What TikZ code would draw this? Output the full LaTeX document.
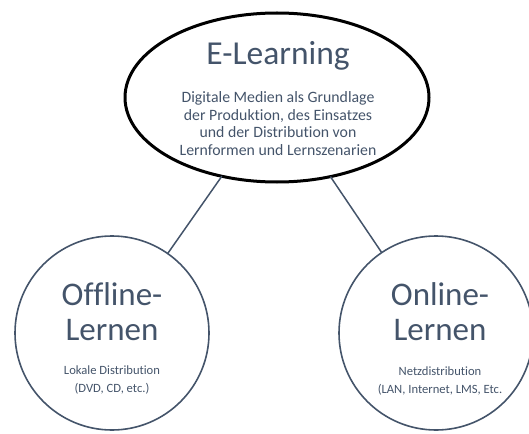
\documentclass[tikz,border=0pt]{standalone}
\usepackage{fontspec}
\setmainfont{Carlito}[Ligatures=NoCommon]
\usetikzlibrary{shapes.geometric}
\definecolor{slate}{RGB}{68,84,106}
\tikzset{
    topic/.style={draw=black, line width=3pt, ellipse, inner sep=0pt, outer sep=0pt},
    branch/.style={draw=slate, line width=1.6pt, circle, inner sep=0pt, outer sep=0pt},
    link/.style={draw=slate, line width=1.5pt},
    bigtext/.style={text=slate, align=center, anchor=base, font=\fontsize{33}{35}\selectfont},
    smalltext/.style={text=slate, align=center, anchor=base, font=\fontsize{15.8}{17.4}\selectfont},
    tinytext/.style={text=slate, align=center, anchor=base, font=\fontsize{12.6}{18}\selectfont}
}
\begin{document}
\begin{tikzpicture}[x=1pt, y=-1pt]
    \useasboundingbox (0,0) rectangle (529,433);

    % Main topic and the two branches
    \node[topic, minimum width=304pt, minimum height=169pt] (elearn) at (277,97.5) {};
    \node[branch, minimum size=194pt] (offline) at (112,333) {};
    \node[branch, minimum size=194pt] (online) at (436,333) {};

    % Connections
    \draw[link] (elearn) -- (offline);
    \draw[link] (elearn) -- (online);

    % Texts of the main topic (base = last line)
    \node[bigtext, font=\fontsize{33.5}{35}\selectfont] (eltitle) at (278,65) {E-Learning};
    \node[smalltext] (eldesc) at (278,155) {Digitale Medien als Grundlage\\der Produktion, des Einsatzes\\und der Distribution von\\Lernformen und Lernszenarien};

    % Texts of the branches
    \node[bigtext] (offtitle) at (112,340) {Offline-\\Lernen};
    \node[tinytext] (offdesc) at (112,392) {Lokale Distribution\\(DVD, CD, etc.)};
    \node[bigtext] (ontitle) at (440,340) {Online-\\Lernen};
    \node[tinytext] (ondesc) at (440,393) {Netzdistribution\\(LAN, Internet, LMS, Etc.};
\end{tikzpicture}
\end{document}
